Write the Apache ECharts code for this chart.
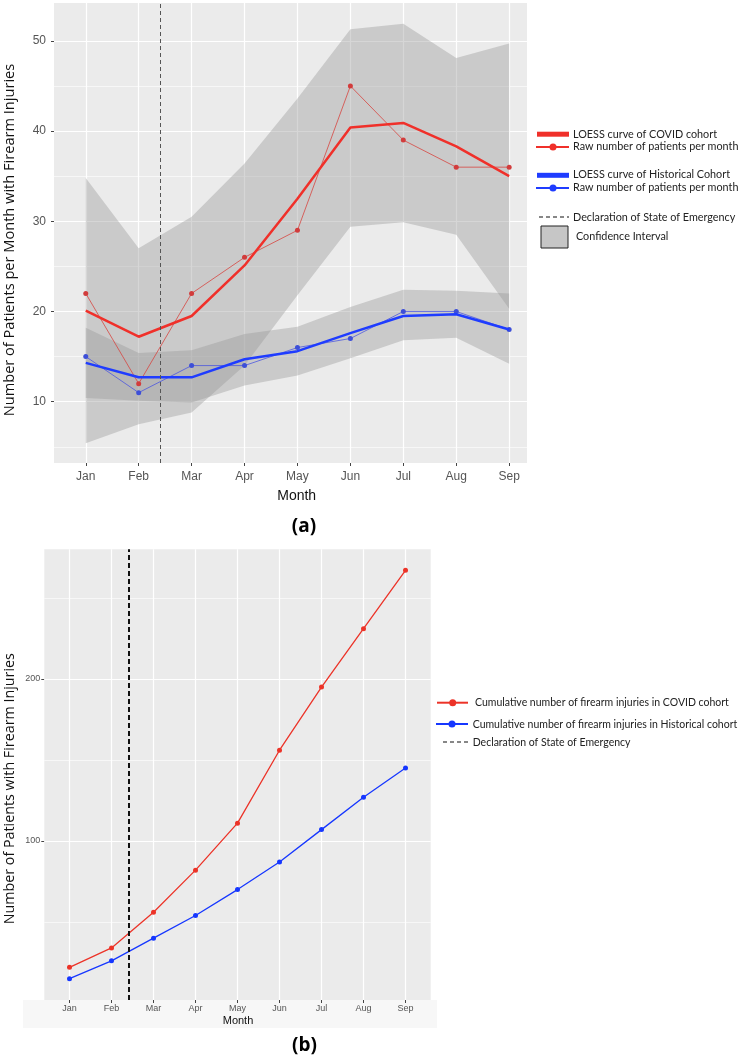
<!DOCTYPE html>
<html lang="en">
<head>
    <meta charset="UTF-8">
    <title>Firearm injuries</title>
    <script type="text/javascript" src="https://cdn.jsdelivr.net/npm/echarts@6/dist/echarts.min.js"></script>
    <style>
        html, body { margin: 0; padding: 0; background: #fff; }
    </style>
</head>
<body>
<div id="chartmain" style="width:742px;height:1061px"></div>
<script>
    var months = ['Jan', 'Feb', 'Mar', 'Apr', 'May', 'Jun', 'Jul', 'Aug', 'Sep'];

    // (a) monthly counts
    var covidRaw   = [22, 12, 22, 26, 29, 45, 39, 36, 36];
    var covidLoess = [20.1, 17.2, 19.5, 25.1, 32.5, 40.4, 40.9, 38.3, 35.0];
    var covidUpper = [34.8, 27.0, 30.5, 36.4, 43.6, 51.3, 51.9, 48.1, 49.7];
    var covidLower = [5.4, 7.5, 8.8, 14.0, 21.8, 29.4, 29.9, 28.5, 20.3];
    var histRaw    = [15, 11, 14, 14, 16, 17, 20, 20, 18];
    var histLoess  = [14.3, 12.7, 12.7, 14.7, 15.6, 17.6, 19.5, 19.7, 18.0];
    var histUpper  = [18.2, 15.4, 15.7, 17.5, 18.3, 20.5, 22.4, 22.3, 22.0];
    var histLower  = [10.4, 10.1, 9.9, 11.8, 12.9, 14.8, 16.8, 17.1, 14.2];

    // (b) cumulative counts
    var covidCum = [22, 34, 56, 82, 111, 156, 195, 231, 267];
    var histCum  = [15, 26, 40, 54, 70, 87, 107, 127, 145];

    var emergencyX = 1.4;   // between Feb and Mar
    var yTicksA = [10, 20, 30, 40, 50];
    var yMinorA = [5, 15, 25, 35, 45];
    var yTicksB = [100, 200];
    var yMinorB = [50, 150, 250];
    var monthIdx = months.map(function (m, i) { return i; });

    function pts(arr) {
        return arr.map(function (v, i) { return [i, v]; });
    }
    function gridLines(major, minor) {
        var d = [];
        monthIdx.forEach(function (i) { d.push({xAxis: i, lineStyle: {width: 1.2}}); });
        major.forEach(function (v) { d.push({yAxis: v, lineStyle: {width: 1.2}}); });
        minor.forEach(function (v) { d.push({yAxis: v, lineStyle: {width: 0.6}}); });
        return d;
    }

    var red = '#f0302a';
    var blue = '#1f3cff';
    var tickFont = 'Liberation Sans, Arial, sans-serif';
    var legendFont = 'Lato, sans-serif';

    function xAxisOpt(idx, max, size, margin) {
        return {
            type: 'value', gridIndex: idx, min: -0.6, max: max,
            splitLine: {show: false},
            axisLine: {show: false, onZero: false},
            axisTick: {show: true, length: 3, customValues: monthIdx, lineStyle: {color: '#444'}},
            axisLabel: {
                customValues: monthIdx, margin: margin,
                color: '#555', fontSize: size, fontFamily: tickFont,
                formatter: function (v) { return months[Math.round(v)]; }
            }
        };
    }
    function yAxisOpt(idx, min, max, ticks, size, margin) {
        return {
            type: 'value', gridIndex: idx, min: min, max: max,
            splitLine: {show: false},
            axisLine: {show: false, onZero: false},
            axisTick: {show: true, length: 3, customValues: ticks, lineStyle: {color: '#444'}},
            axisLabel: {customValues: ticks, margin: margin, color: '#555', fontSize: size, fontFamily: tickFont}
        };
    }

    var helper = function (xi, major, minor) {
        return {
            type: 'line', xAxisIndex: xi, yAxisIndex: xi, data: [], silent: true,
            markLine: {
                silent: true, z: 1, symbol: ['none', 'none'], label: {show: false},
                lineStyle: {color: '#ffffff', type: 'solid'},
                data: gridLines(major, minor)
            }
        };
    };
    var dashed = function (xi, color, width, dash) {
        return {
            type: 'line', xAxisIndex: xi, yAxisIndex: xi, data: [], silent: true,
            markLine: {
                silent: true, z: 6, symbol: ['none', 'none'], label: {show: false},
                lineStyle: {color: color, width: width, type: dash},
                data: [{xAxis: emergencyX}]
            }
        };
    };
    // confidence ribbon: one polygon, upper edge forward then lower edge back
    var band = function (lo, hi) {
        return {
            type: 'custom', z: 2, silent: true,
            data: lo.map(function (v, i) { return [i, v, hi[i]]; }),
            encode: {x: 0, y: [1, 2]},
            renderItem: function (params, api) {
                if (params.dataIndex !== 0) return null;
                var poly = [];
                for (var i = 0; i < hi.length; i++) poly.push(api.coord([i, hi[i]]));
                for (var j = lo.length - 1; j >= 0; j--) poly.push(api.coord([j, lo[j]]));
                return {
                    type: 'polygon', shape: {points: poly},
                    style: {fill: 'rgba(153,153,153,0.4)', stroke: null}
                };
            }
        };
    };

    var series = [
        helper(0, yTicksA, yMinorA),
        band(covidLower, covidUpper),
        band(histLower, histUpper),
        {
            type: 'line', data: pts(histRaw), z: 3, symbol: 'circle', symbolSize: 5,
            lineStyle: {color: 'rgba(70,80,225,0.75)', width: 1},
            itemStyle: {color: '#3d4fd8'}
        },
        {
            type: 'line', data: pts(histLoess), z: 4, showSymbol: false,
            lineStyle: {color: blue, width: 2.5}
        },
        {
            type: 'line', data: pts(covidRaw), z: 3, symbol: 'circle', symbolSize: 5,
            lineStyle: {color: 'rgba(215,70,65,0.8)', width: 1},
            itemStyle: {color: '#d23c3c'}
        },
        {
            type: 'line', data: pts(covidLoess), z: 4, showSymbol: false,
            lineStyle: {color: red, width: 2.5}
        },
        dashed(0, '#555', 1, [4, 3]),
        helper(1, yTicksB, yMinorB),
        {
            type: 'line', xAxisIndex: 1, yAxisIndex: 1, data: pts(covidCum), z: 3,
            symbol: 'circle', symbolSize: 5,
            lineStyle: {color: '#ec3328', width: 1.3}, itemStyle: {color: '#ec3328'}
        },
        {
            type: 'line', xAxisIndex: 1, yAxisIndex: 1, data: pts(histCum), z: 3,
            symbol: 'circle', symbolSize: 5,
            lineStyle: {color: '#1637ff', width: 1.3}, itemStyle: {color: '#1637ff'}
        },
        dashed(1, '#111', 2, [5, 3])
    ];

    function txt(x, y, s, size, opts) {
        return {
            type: 'text', x: x, y: y, silent: true,
            style: Object.assign({
                text: s, fontSize: size, fontFamily: legendFont, fill: '#222',
                textAlign: 'left', textVerticalAlign: 'middle'
            }, opts || {})
        };
    }
    function rot(x, y, s, size) {
        return {
            type: 'text', x: x, y: y, rotation: Math.PI / 2, silent: true,
            style: {
                text: s, fontSize: size, fontFamily: 'Open Sans, sans-serif', fill: '#111',
                textAlign: 'center', textVerticalAlign: 'middle'
            }
        };
    }
    function seg(x1, y1, x2, y2, color, w, dash) {
        return {
            type: 'line', silent: true,
            shape: {x1: x1, y1: y1, x2: x2, y2: y2},
            style: {stroke: color, lineWidth: w, lineDash: dash || null}
        };
    }
    function dot(x, y, color) {
        return {type: 'circle', silent: true, shape: {cx: x, cy: y, r: 3.5}, style: {fill: color}};
    }

    var graphics = [
        {type: 'rect', z: -10, silent: true, shape: {x: 23, y: 1000, width: 414, height: 28}, style: {fill: '#f7f7f7'}},
        // axis titles
        rot(9.5, 240, 'Number of Patients per Month with Firearm Injuries', 14.6),
        txt(296.7, 495.7, 'Month', 14, {textAlign: 'center', fontFamily: tickFont, fill: '#111'}),
        rot(10, 788.7, 'Number of Patients with Firearm Injuries', 14.3),
        txt(238, 1020.7, 'Month', 11, {textAlign: 'center', fontFamily: tickFont, fill: '#111'}),
        txt(304, 526.5, '(a)', 19, {textAlign: 'center', fontWeight: 'bold', fontFamily: 'Open Sans, sans-serif', fill: '#000'}),
        txt(304.5, 1046, '(b)', 19, {textAlign: 'center', fontWeight: 'bold', fontFamily: 'Open Sans, sans-serif', fill: '#000'}),
        // legend (a)
        {type: 'rect', silent: true, shape: {x: 537, y: 131.7, width: 32, height: 5}, style: {fill: red}},
        txt(573, 134.3, 'LOESS curve of COVID cohort', 10.8),
        seg(536, 147, 569, 147, red, 2), dot(553, 147, red),
        txt(573, 147, 'Raw number of patients per month', 10.8),
        {type: 'rect', silent: true, shape: {x: 537, y: 172.8, width: 32, height: 5}, style: {fill: blue}},
        txt(573, 175, 'LOESS curve of Historical Cohort', 10.8),
        seg(536, 188, 569, 188, blue, 2), dot(553, 188, blue),
        txt(573, 188, 'Raw number of patients per month', 10.8),
        seg(539, 217, 569, 217, '#111', 1.2, [4, 3]),
        txt(573, 217.5, 'Declaration of State of Emergency', 10.8),
        {type: 'rect', silent: true, shape: {x: 541, y: 226, width: 27, height: 22}, style: {fill: '#c6c6c6', stroke: '#222', lineWidth: 1}},
        txt(576, 237, 'Confidence Interval', 10.8),
        // legend (b)
        seg(437, 702.7, 468, 702.7, '#ec3328', 2), dot(452.7, 702.7, '#ec3328'),
        txt(475, 703, 'Cumulative number of firearm injuries in COVID cohort', 10.5),
        seg(436, 724, 468, 724, '#1637ff', 2), dot(452, 724, '#1637ff'),
        txt(472.7, 724.5, 'Cumulative number of firearm injuries in Historical cohort', 10.5),
        seg(443, 742, 469, 742, '#111', 1.2, [4, 3]),
        txt(472.7, 742.5, 'Declaration of State of Emergency', 10.5)
    ];

    var option = {
        animation: false,
        backgroundColor: '#ffffff',
        grid: [
            {left: 54, top: 3, width: 473, height: 460, show: true, backgroundColor: '#ebebeb', borderWidth: 0},
            {left: 44.3, top: 549.3, width: 386.4, height: 450.7, show: true, backgroundColor: '#ebebeb', borderWidth: 0}
        ],
        xAxis: [
            xAxisOpt(0, 8.337, 12, 8),
            xAxisOpt(1, 8.6, 9, 4)
        ],
        yAxis: [
            yAxisOpt(0, 3.2, 54.2, yTicksA, 12, 8),
            yAxisOpt(1, 1.85, 280, yTicksB, 9, 4)
        ],
        graphic: graphics,
        series: series
    };

    var myChart = echarts.init(document.getElementById('chartmain'));
    myChart.setOption(option);
</script>
</body>
</html>
